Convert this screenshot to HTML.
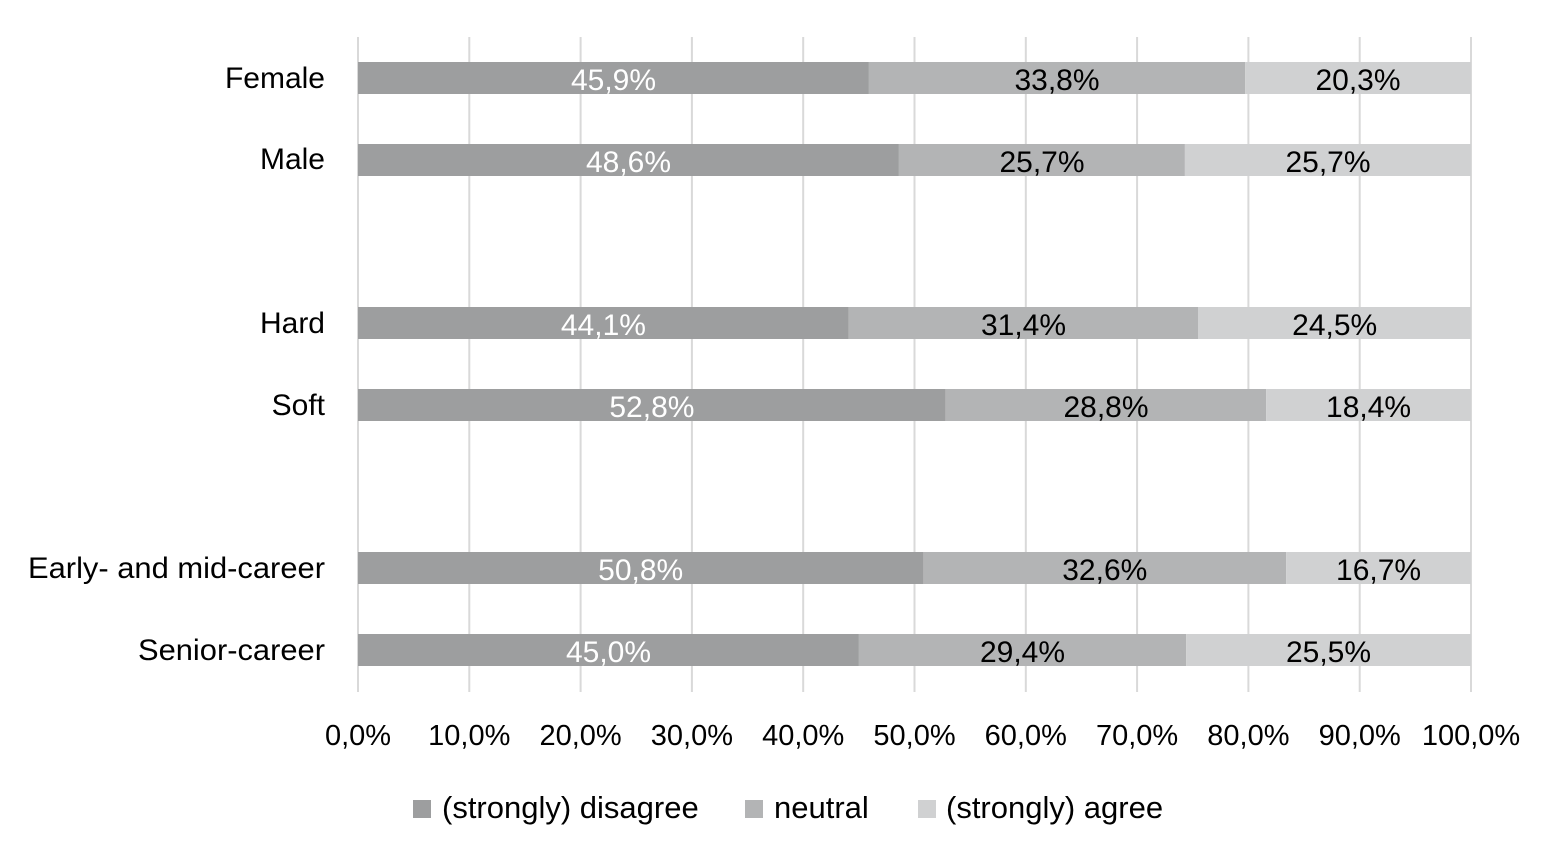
<!DOCTYPE html>
<html>
<head>
<meta charset="utf-8">
<style>
  html, body { margin: 0; padding: 0; background: #ffffff; }
  svg { display: block; }
  text { font-family: "Liberation Sans", "DejaVu Sans", sans-serif; }
</style>
</head>
<body>
<svg width="1543" height="845" viewBox="0 0 1543 845" xmlns="http://www.w3.org/2000/svg">
  <rect x="0" y="0" width="1543" height="845" fill="#ffffff"/>
  <!-- gridlines -->
  <g stroke="#d9d9d9" stroke-width="2">
    <line x1="358" y1="37" x2="358" y2="692"/>
    <line x1="469.3" y1="37" x2="469.3" y2="692"/>
    <line x1="580.6" y1="37" x2="580.6" y2="692"/>
    <line x1="691.9" y1="37" x2="691.9" y2="692"/>
    <line x1="803.2" y1="37" x2="803.2" y2="692"/>
    <line x1="914.5" y1="37" x2="914.5" y2="692"/>
    <line x1="1025.8" y1="37" x2="1025.8" y2="692"/>
    <line x1="1137.1" y1="37" x2="1137.1" y2="692"/>
    <line x1="1248.4" y1="37" x2="1248.4" y2="692"/>
    <line x1="1359.7" y1="37" x2="1359.7" y2="692"/>
    <line x1="1471" y1="37" x2="1471" y2="692"/>
  </g>

  <!-- bars -->
  <g>
    <!-- Female -->
    <rect x="358" y="62" width="510.9" height="32" fill="#9d9e9f"/>
    <rect x="868.9" y="62" width="376.2" height="32" fill="#b3b4b5"/>
    <rect x="1245.1" y="62" width="225.9" height="32" fill="#d0d1d2"/>
    <!-- Male -->
    <rect x="358" y="144" width="540.9" height="32" fill="#9d9e9f"/>
    <rect x="898.9" y="144" width="286.0" height="32" fill="#b3b4b5"/>
    <rect x="1184.9" y="144" width="286.1" height="32" fill="#d0d1d2"/>
    <!-- Hard -->
    <rect x="358" y="307" width="490.8" height="32" fill="#9d9e9f"/>
    <rect x="848.8" y="307" width="349.5" height="32" fill="#b3b4b5"/>
    <rect x="1198.3" y="307" width="272.7" height="32" fill="#d0d1d2"/>
    <!-- Soft -->
    <rect x="358" y="389" width="587.7" height="32" fill="#9d9e9f"/>
    <rect x="945.7" y="389" width="320.5" height="32" fill="#b3b4b5"/>
    <rect x="1266.2" y="389" width="204.8" height="32" fill="#d0d1d2"/>
    <!-- Early -->
    <rect x="358" y="552" width="565.4" height="32" fill="#9d9e9f"/>
    <rect x="923.4" y="552" width="362.8" height="32" fill="#b3b4b5"/>
    <rect x="1286.2" y="552" width="184.8" height="32" fill="#d0d1d2"/>
    <!-- Senior -->
    <rect x="358" y="634" width="500.9" height="32" fill="#9d9e9f"/>
    <rect x="858.9" y="634" width="327.2" height="32" fill="#b3b4b5"/>
    <rect x="1186.1" y="634" width="284.9" height="32" fill="#d0d1d2"/>
  </g>

  <!-- data labels -->
  <g font-size="30" text-anchor="middle">
    <text x="613.5" y="90" fill="#ffffff">45,9%</text>
    <text x="1057" y="90" fill="#000000">33,8%</text>
    <text x="1358" y="90" fill="#000000">20,3%</text>

    <text x="628.5" y="172" fill="#ffffff">48,6%</text>
    <text x="1042" y="172" fill="#000000">25,7%</text>
    <text x="1328" y="172" fill="#000000">25,7%</text>

    <text x="603.4" y="335" fill="#ffffff">44,1%</text>
    <text x="1023.5" y="335" fill="#000000">31,4%</text>
    <text x="1334.7" y="335" fill="#000000">24,5%</text>

    <text x="651.9" y="417" fill="#ffffff">52,8%</text>
    <text x="1106" y="417" fill="#000000">28,8%</text>
    <text x="1368.6" y="417" fill="#000000">18,4%</text>

    <text x="640.7" y="580" fill="#ffffff">50,8%</text>
    <text x="1104.8" y="580" fill="#000000">32,6%</text>
    <text x="1378.6" y="580" fill="#000000">16,7%</text>

    <text x="608.5" y="662" fill="#ffffff">45,0%</text>
    <text x="1022.5" y="662" fill="#000000">29,4%</text>
    <text x="1328.5" y="662" fill="#000000">25,5%</text>
  </g>

  <!-- category labels -->
  <g font-size="30" text-anchor="end" fill="#000000">
    <text x="325" y="88">Female</text>
    <text x="325" y="169">Male</text>
    <text x="325" y="333">Hard</text>
    <text x="325" y="415">Soft</text>
    <text x="325" y="578" textLength="297" lengthAdjust="spacingAndGlyphs">Early- and mid-career</text>
    <text x="325" y="660" textLength="187" lengthAdjust="spacingAndGlyphs">Senior-career</text>
  </g>

  <!-- x tick labels -->
  <g font-size="29" text-anchor="middle" fill="#000000">
    <text x="358" y="745">0,0%</text>
    <text x="469.3" y="745">10,0%</text>
    <text x="580.6" y="745">20,0%</text>
    <text x="691.9" y="745">30,0%</text>
    <text x="803.2" y="745">40,0%</text>
    <text x="914.5" y="745">50,0%</text>
    <text x="1025.8" y="745">60,0%</text>
    <text x="1137.1" y="745">70,0%</text>
    <text x="1248.4" y="745">80,0%</text>
    <text x="1359.7" y="745">90,0%</text>
    <text x="1471" y="745">100,0%</text>
  </g>

  <!-- legend -->
  <g>
    <rect x="413" y="800" width="18" height="18" fill="#9d9e9f"/>
    <text x="442" y="818" font-size="31" fill="#000000">(strongly) disagree</text>
    <rect x="745" y="800" width="18" height="18" fill="#b3b4b5"/>
    <text x="774" y="818" font-size="31" fill="#000000">neutral</text>
    <rect x="918" y="800" width="18" height="18" fill="#d0d1d2"/>
    <text x="946" y="818" font-size="31" fill="#000000">(strongly) agree</text>
  </g>
</svg>
</body>
</html>
